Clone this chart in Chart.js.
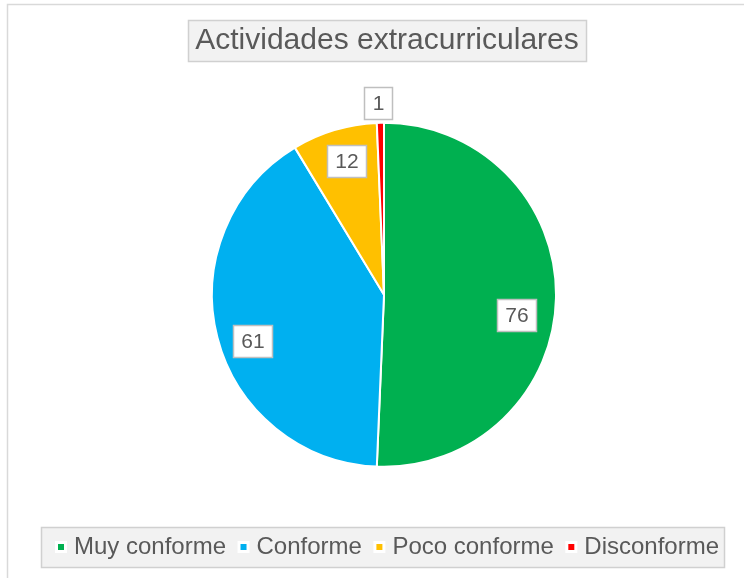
<!DOCTYPE html>
<html>
<head>
<meta charset="utf-8">
<script src="https://cdn.jsdelivr.net/npm/chart.js@4/dist/chart.umd.min.js"></script>
<style>
  html, body { margin: 0; padding: 0; background: #ffffff; }
  #wrap { position: relative; width: 744px; height: 578px; }
</style>
</head>
<body>
<div id="wrap"><canvas id="c" width="744" height="578"></canvas></div>
<script>
// ---- Data ----
const chartTitle = 'Actividades extracurriculares';
const categories = ['Muy conforme', 'Conforme', 'Poco conforme', 'Disconforme'];
const values = [76, 61, 12, 1];
const sliceColors = ['#00B050', '#00B0F0', '#FFC000', '#FF0000'];

// ---- Label placement styling (not data) ----
const labelStyle = {
  radiusFactor: [0.78, 0.81, 0.81, 1.115],
  angleNudgeDeg: [7.4, -4.8, 1.1, -0.7],
  font: '21px "Liberation Sans", Arial, sans-serif',
  color: '#595959',
  border: '#bfbfbf',
  padX: 8,
  height: 32
};

const FONT = '"Liberation Sans", Arial, sans-serif';
const TEXT_GRAY = '#595959';

const shiftPlugin = {
  id: 'shiftBlocks',
  afterLayout(chart) {
    if (chart.legend) { chart.legend.left += 5.5; chart.legend.right += 5.5; }
    if (chart.titleBlock) { chart.titleBlock.left += 3; chart.titleBlock.right += 3; }
  }
};

const framePlugin = {
  id: 'frame',
  beforeDraw(chart) {
    const ctx = chart.ctx;
    ctx.save();
    // outer chart border
    ctx.strokeStyle = '#d9d9d9';
    ctx.lineWidth = 1.5;
    ctx.strokeRect(7.5, 4.5, 760, 600);

    // title box
    const tb = chart.titleBlock;
    if (tb) {
      const o = chart.options.plugins.title;
      ctx.font = '30px ' + FONT;
      const w = ctx.measureText(chartTitle).width;
      const cx = (tb.left + tb.right) / 2;
      const cy = tb.top + o.padding.top + 30 * 1.2 / 2;
      ctx.fillStyle = '#f2f2f2';
      ctx.strokeStyle = '#d0d0d0';
      ctx.lineWidth = 1.5;
      const x0 = Math.round(cx - w / 2 - 7) + 0.5;
      const x1 = Math.round(cx + w / 2 + 7) + 0.5;
      const y0 = Math.round(cy - 20.5) + 0.5;
      const y1 = Math.round(cy + 20.5) + 0.5;
      ctx.fillRect(x0, y0, x1 - x0, y1 - y0);
      ctx.strokeRect(x0, y0, x1 - x0, y1 - y0);
    }

    // legend box
    const lg = chart.legend;
    if (lg && lg.legendHitBoxes && lg.legendHitBoxes.length) {
      const hb = lg.legendHitBoxes;
      const first = hb[0], last = hb[hb.length - 1];
      const cy = first.top + first.height / 2;
      const x0 = Math.round(first.left - 19) + 0.5;
      const x1 = Math.round(last.left + last.width + 5) + 0.5;
      const y0 = Math.round(cy - 20) + 0.5;
      const y1 = Math.round(cy + 20) + 0.5;
      ctx.fillStyle = '#f2f2f2';
      ctx.strokeStyle = '#d0d0d0';
      ctx.lineWidth = 1.5;
      ctx.fillRect(x0, y0, x1 - x0, y1 - y0);
      ctx.strokeRect(x0, y0, x1 - x0, y1 - y0);
    }
    ctx.restore();
  }
};

const labelPlugin = {
  id: 'sliceLabels',
  afterDatasetsDraw(chart) {
    const ctx = chart.ctx;
    const meta = chart.getDatasetMeta(0);
    const ds = chart.data.datasets[0];
    ctx.save();
    ctx.font = labelStyle.font;
    ctx.textAlign = 'center';
    ctx.textBaseline = 'middle';
    meta.data.forEach((arc, i) => {
      const p = arc.getProps(['x', 'y', 'startAngle', 'endAngle', 'outerRadius'], true);
      const mid = (p.startAngle + p.endAngle) / 2 + labelStyle.angleNudgeDeg[i] * Math.PI / 180;
      const r = p.outerRadius * labelStyle.radiusFactor[i];
      const lx = p.x + Math.cos(mid) * r;
      const ly = p.y + Math.sin(mid) * r;
      const txt = String(ds.data[i]);
      const tw = ctx.measureText(txt).width;
      const bw = Math.round(tw + labelStyle.padX * 2);
      const bh = labelStyle.height;
      const bx = Math.round(lx - bw / 2) + 0.5;
      const by = Math.round(ly - bh / 2) + 0.5;
      ctx.fillStyle = '#ffffff';
      ctx.fillRect(bx, by, bw, bh);
      ctx.strokeStyle = labelStyle.border;
      ctx.lineWidth = 1.5;
      ctx.strokeRect(bx, by, bw, bh);
      ctx.fillStyle = labelStyle.color;
      ctx.fillText(txt, bx + bw / 2, by + bh / 2 + 1);
    });
    ctx.restore();
  }
};

new Chart(document.getElementById('c'), {
  type: 'pie',
  data: {
    labels: categories,
    datasets: [{
      data: values,
      backgroundColor: sliceColors,
      borderColor: '#ffffff',
      borderWidth: 2,
      radius: 172
    }]
  },
  options: {
    responsive: false,
    animation: false,
    events: [],
    layout: { padding: { left: 24, right: 0, top: 0, bottom: 9 } },
    plugins: {
      title: {
        display: true,
        text: chartTitle,
        color: TEXT_GRAY,
        font: { family: FONT, size: 30, weight: 'normal', lineHeight: 1.2 },
        padding: { top: 22.5, bottom: 12.5 }
      },
      legend: {
        display: true,
        position: 'bottom',
        labels: {
          color: TEXT_GRAY,
          font: { family: FONT, size: 24 },
          usePointStyle: true,
          pointStyle: 'rect',
          boxWidth: 2,
          boxHeight: 9,
          padding: 16.5,
          generateLabels(chart) {
            const base = Chart.overrides.pie.plugins.legend.labels.generateLabels(chart);
            return base.map(it => Object.assign(it, { lineWidth: 3, strokeStyle: '#ffffff', pointStyle: 'rect' }));
          }
        }
      },
      tooltip: { enabled: false }
    }
  },
  plugins: [shiftPlugin, framePlugin, labelPlugin]
});
</script>
</body>
</html>
